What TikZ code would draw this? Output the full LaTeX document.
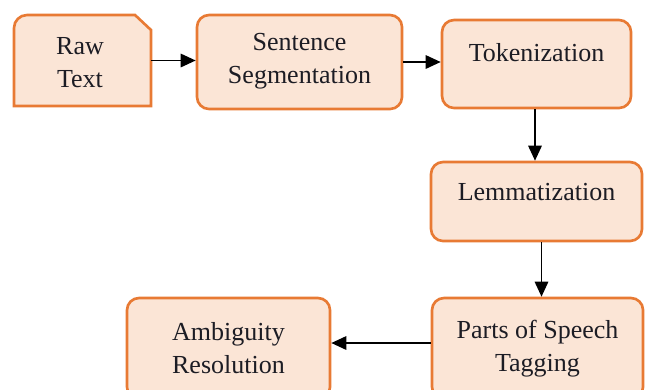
\documentclass[tikz,border=0pt]{standalone}
\usepackage{fontspec}
\setmainfont{Liberation Serif}
\usepackage{tikz}
\usetikzlibrary{arrows.meta}
\definecolor{peach}{RGB}{251, 229, 214}
\definecolor{carrot}{RGB}{232, 122, 52}
\definecolor{ink}{RGB}{28, 28, 36}
\tikzset{
    stage/.style={draw=carrot, fill=peach, line width=1.5pt, rounded corners=0.24cm, rectangle},
    stagetext/.style={text=ink, align=center, font=\fontsize{14.8}{18.8}\selectfont},
    flow/.style={draw=black, line width=0.9pt, -{Triangle[length=0.30cm, width=0.27cm]}}
}
\begin{document}
\begin{tikzpicture}
            \clip (0.00, 0.00) rectangle (12.94, 7.78);
            \filldraw[draw=carrot, fill=peach, line width=1.5pt]
                 (0.28, 5.66) -- (0.28, 7.22) arc (180:90:0.26) -- (2.70, 7.48) -- (3.02, 7.18) -- (3.02, 5.66) -- cycle;
            \node[minimum width=2.74cm, minimum height=1.82cm] (raw) at ( 1.65, 6.57) {};
            \node[stage, minimum width=4.10cm, minimum height=1.88cm] (sent) at ( 5.99, 6.54) {};
            \node[stage, minimum width=3.78cm, minimum height=1.76cm] (tok)  at (10.73, 6.50) {};
            \node[stage, minimum width=4.22cm, minimum height=1.58cm] (lem)  at (10.73, 3.75) {};
            \node[stage, minimum width=4.22cm, minimum height=2.02cm] (pos)  at (10.75, 0.81) {};
            \node[stage, minimum width=4.06cm, minimum height=2.02cm] (amb)  at ( 4.57, 0.81) {};
            \node[stagetext] (rawtext)  at ( 1.60, 6.52) {Raw\\Text};
            \node[stagetext] (senttext) at ( 5.99, 6.55) {Sentence\\Segmentation};
            \node[stagetext] (toktext)  at (10.73, 6.72) {Tokenization};
            \node[stagetext] (lemtext)  at (10.73, 3.94) {Lemmatization};
            \node[stagetext] (postext)  at (10.75, 0.81) {Parts of Speech\\Tagging};
            \node[stagetext] (ambtext)  at ( 4.57, 0.81) {Ambiguity\\Resolution};
            \draw[flow] (raw.east)   -- (raw.east -| sent.west);
            \draw[flow] (sent.east)  -- (sent.east -| tok.west);
            \draw[flow] ([xshift=-0.03cm]tok.south) -- ([xshift=-0.03cm]tok.south |- lem.north);
            \draw[flow] ([xshift=0.10cm]lem.south) -- ([xshift=0.10cm]lem.south |- pos.north);
            \draw[flow] ([yshift=0.11cm]pos.west) -- ([yshift=0.11cm]pos.west -| amb.east);
\end{tikzpicture}
\end{document}
